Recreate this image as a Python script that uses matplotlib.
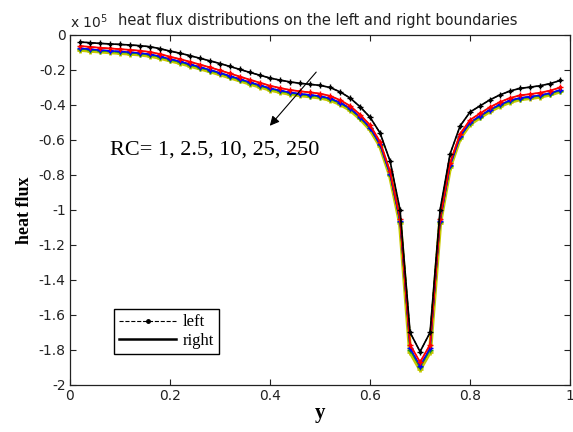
import matplotlib

matplotlib.use("Agg")
import matplotlib.pyplot as plt
from matplotlib.lines import Line2D

plt.rcParams["axes.unicode_minus"] = False

# boundary coordinate y (nodes)
y_nodes = [0.02, 0.04, 0.06, 0.08, 0.10, 0.12, 0.14, 0.16, 0.18, 0.20,
           0.22, 0.24, 0.26, 0.28, 0.30, 0.32, 0.34, 0.36, 0.38, 0.40,
           0.42, 0.44, 0.46, 0.48, 0.50, 0.52, 0.54, 0.56, 0.58, 0.60,
           0.62, 0.64, 0.66, 0.68, 0.70, 0.72, 0.74, 0.76, 0.78, 0.80,
           0.82, 0.84, 0.86, 0.88, 0.90, 0.92, 0.94, 0.96, 0.98]

# heat flux (x 1e5) for each RC
flux_rc1 = [-0.040, -0.044, -0.048, -0.051, -0.054, -0.057, -0.061, -0.067, -0.078, -0.092,
            -0.104, -0.118, -0.133, -0.148, -0.163, -0.180, -0.197, -0.214, -0.230, -0.246,
            -0.258, -0.268, -0.276, -0.282, -0.288, -0.300, -0.325, -0.360, -0.410, -0.470,
            -0.560, -0.720, -1.000, -1.700, -1.810, -1.700, -1.000, -0.680, -0.520, -0.440,
            -0.405, -0.370, -0.342, -0.320, -0.305, -0.298, -0.290, -0.278, -0.260]
flux_rc2 = [-0.063, -0.068, -0.073, -0.077, -0.081, -0.085, -0.090, -0.097, -0.109, -0.124,
            -0.138, -0.153, -0.169, -0.185, -0.202, -0.220, -0.238, -0.256, -0.273, -0.290,
            -0.303, -0.314, -0.322, -0.328, -0.335, -0.348, -0.372, -0.405, -0.455, -0.515,
            -0.610, -0.780, -1.050, -1.770, -1.870, -1.770, -1.050, -0.730, -0.565, -0.485,
            -0.448, -0.412, -0.383, -0.360, -0.345, -0.338, -0.330, -0.318, -0.300]
flux_rc3 = [-0.076, -0.081, -0.086, -0.090, -0.094, -0.098, -0.103, -0.110, -0.122, -0.137,
            -0.151, -0.167, -0.183, -0.199, -0.216, -0.234, -0.252, -0.270, -0.287, -0.304,
            -0.317, -0.328, -0.336, -0.342, -0.349, -0.362, -0.386, -0.419, -0.469, -0.530,
            -0.625, -0.795, -1.065, -1.790, -1.890, -1.790, -1.065, -0.745, -0.580, -0.500,
            -0.462, -0.426, -0.397, -0.374, -0.359, -0.352, -0.344, -0.332, -0.314]
flux_rc4 = [-0.080, -0.085, -0.090, -0.094, -0.098, -0.102, -0.107, -0.114, -0.126, -0.141,
            -0.155, -0.171, -0.187, -0.203, -0.220, -0.238, -0.256, -0.274, -0.291, -0.308,
            -0.321, -0.332, -0.340, -0.346, -0.353, -0.366, -0.390, -0.423, -0.473, -0.534,
            -0.629, -0.799, -1.070, -1.800, -1.900, -1.800, -1.070, -0.749, -0.584, -0.504,
            -0.466, -0.430, -0.401, -0.378, -0.363, -0.356, -0.348, -0.336, -0.318]
flux_rc5 = [-0.084, -0.089, -0.094, -0.098, -0.102, -0.106, -0.111, -0.118, -0.130, -0.145,
            -0.159, -0.175, -0.191, -0.207, -0.224, -0.242, -0.260, -0.278, -0.295, -0.312,
            -0.325, -0.336, -0.344, -0.350, -0.357, -0.370, -0.394, -0.427, -0.477, -0.538,
            -0.633, -0.803, -1.075, -1.810, -1.910, -1.810, -1.075, -0.753, -0.588, -0.508,
            -0.470, -0.434, -0.405, -0.382, -0.367, -0.360, -0.352, -0.340, -0.322]

series = [flux_rc5, flux_rc4, flux_rc3, flux_rc2, flux_rc1]
colors = ["#c8c800", "#1a9a1a", "#0000ff", "#ff0000", "#000000"]
widths = [3.0, 1.0, 1.0, 1.3, 1.2]

x_ticks = [0, 0.2, 0.4, 0.6, 0.8, 1]
x_labels = ["0", "0.2", "0.4", "0.6", "0.8", "1"]
y_ticks = [0, -0.2, -0.4, -0.6, -0.8, -1, -1.2, -1.4, -1.6, -1.8, -2]
y_labels = ["0", "-0.2", "-0.4", "-0.6", "-0.8", "-1", "-1.2", "-1.4", "-1.6", "-1.8", "-2"]

fig = plt.figure(figsize=(5.73, 4.32), dpi=100)
ax = fig.add_axes([0.122, 0.109, 0.873, 0.81])

for vals, c, lw in zip(series, colors, widths):
    # right boundary: solid with plus markers
    ax.plot(y_nodes, vals, "-", color=c, lw=lw, marker="+", ms=5 if lw > 2 else 4,
            mew=2.0 if lw > 2 else 1.0)
    # left boundary: dashed with dots
    ax.plot(y_nodes, vals, "--", color=c, lw=0.8, marker=".", ms=3)

ax.set_xlim(0, 1)
ax.set_ylim(-2, 0)
ax.set_xticks(x_ticks)
ax.set_xticklabels(x_labels)
ax.set_yticks(y_ticks)
ax.set_yticklabels(y_labels)
ax.tick_params(direction="in", top=True, right=True, length=4, labelsize=10,
               colors="#222222", labelcolor="#222222", pad=3)
for sp in ax.spines.values():
    sp.set_color("#222222")
    sp.set_linewidth(0.9)

ax.set_xlabel("y", family="Liberation Serif", weight="bold", fontsize=15, labelpad=0)
ax.set_ylabel("heat flux", family="Liberation Serif", weight="bold", fontsize=13, labelpad=4)

ax.text(0.0, 1.012, "x 10$^5$", transform=ax.transAxes, ha="left", va="bottom", fontsize=10,
        color="#222222")
fig.text(118 / 573, 1 - 21 / 432, "heat flux distributions on the left and right boundaries",
         ha="left", va="center", fontsize=10.5, color="#222222")

ax.annotate("", xy=(0.396, -0.531), xytext=(0.496, -0.20),
            arrowprops=dict(arrowstyle="-|>", color="black", lw=0.8, mutation_scale=14))
ax.text(0.08, -0.657, "RC= 1, 2.5, 10, 25, 250", family="Liberation Serif", fontsize=16,
        ha="left", va="center")

handles = [
    Line2D([], [], color="black", ls="--", lw=0.8, marker=".", ms=5, markevery=[1]),
    Line2D([], [], color="black", ls="-", lw=1.8),
]
ax.legend(handles, ["left", "right"], loc="lower left", bbox_to_anchor=(0.072, 0.065),
          prop={"family": "Liberation Serif", "size": 12}, frameon=True, fancybox=False,
          edgecolor="black", framealpha=1, handlelength=3.4, borderpad=0.3,
          labelspacing=0.15, handletextpad=0.4)

fig.savefig("out.png", dpi=100)
